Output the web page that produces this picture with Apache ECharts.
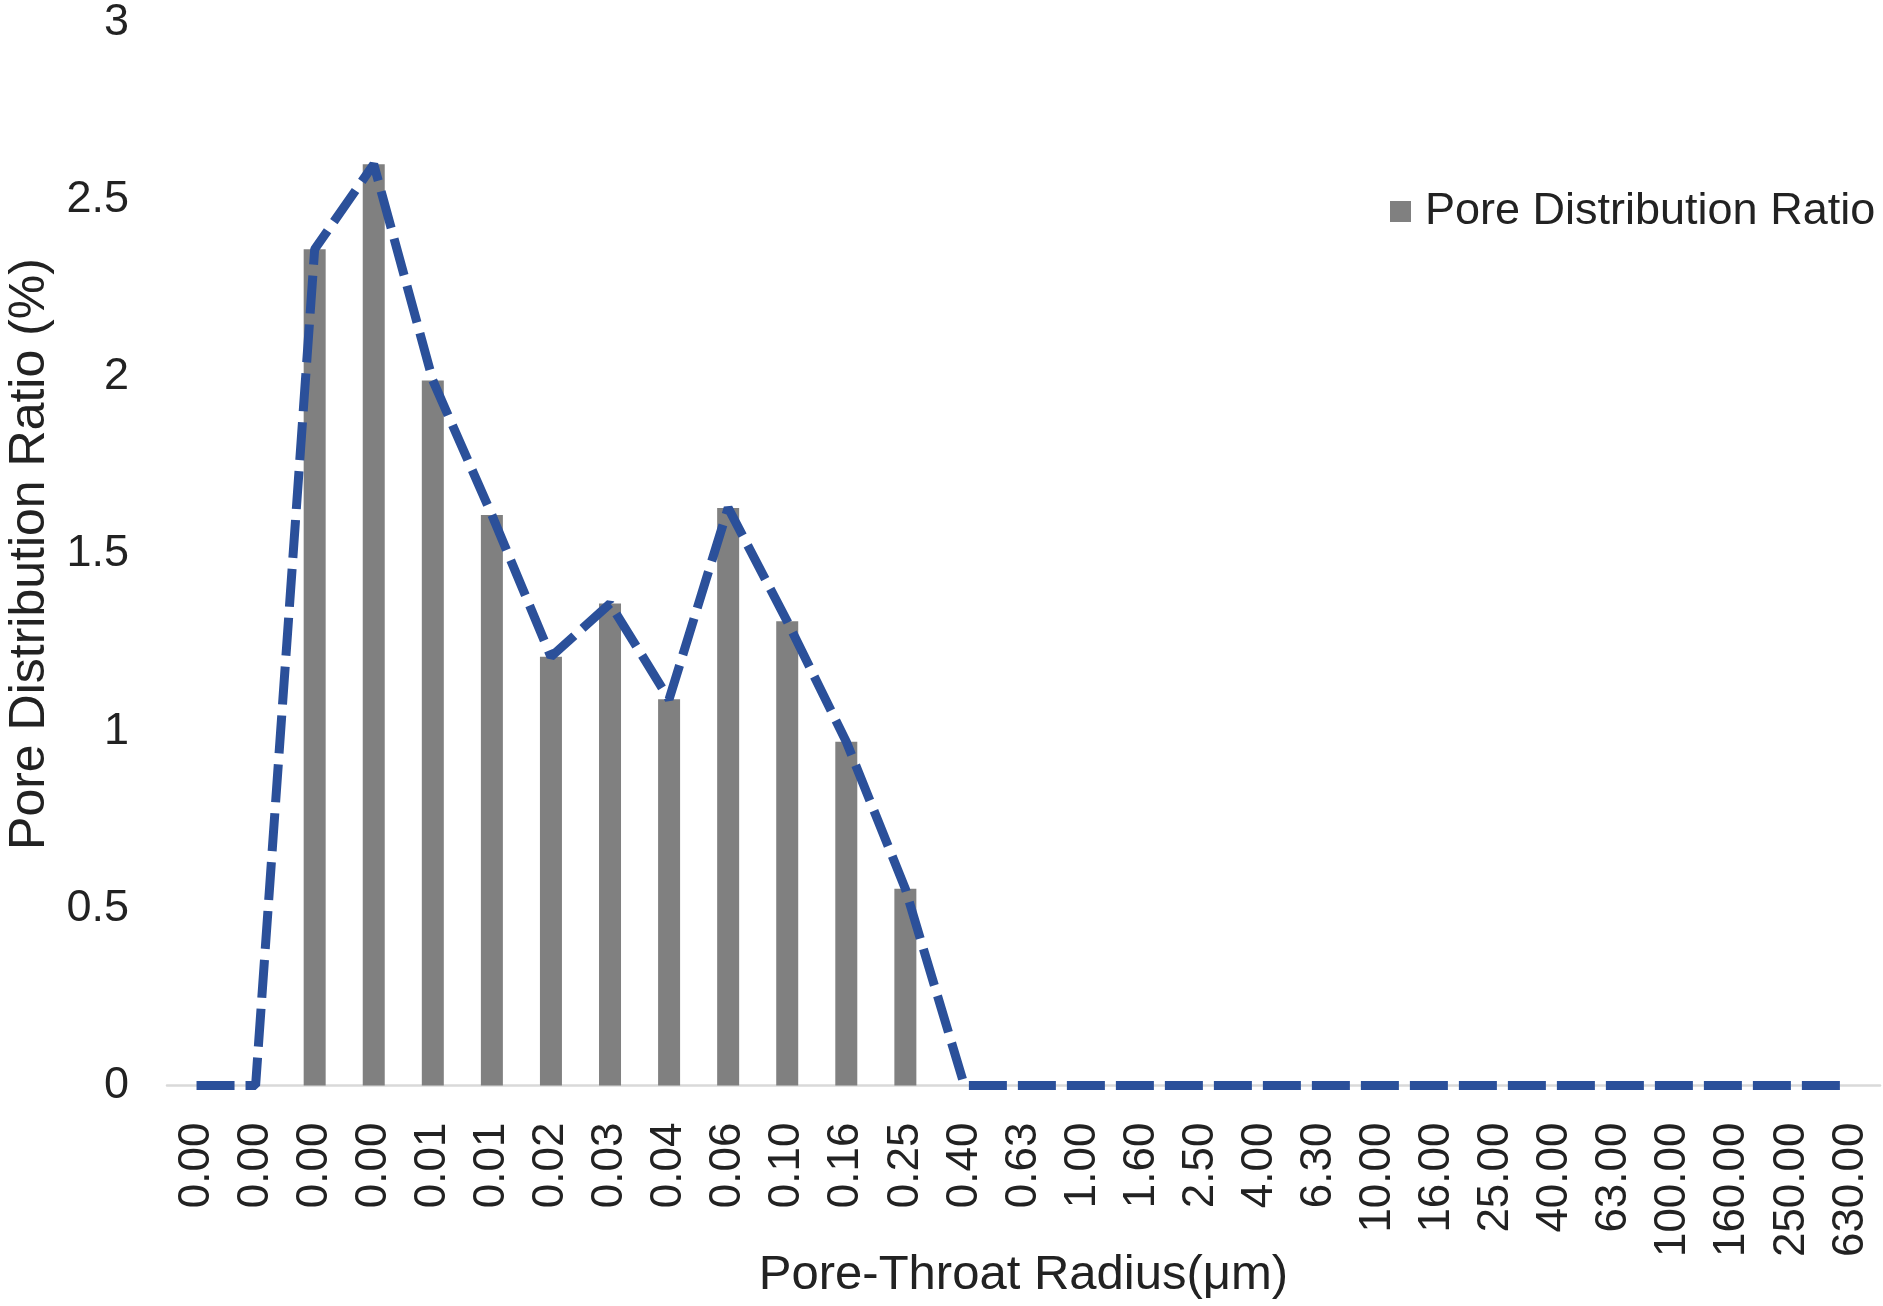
<!DOCTYPE html>
<html>
<head>
<meta charset="utf-8">
<script src="https://cdn.jsdelivr.net/npm/echarts@6/dist/echarts.min.js"></script>
<style>
  html, body { margin: 0; padding: 0; background: #fff; }
  #chart { width: 1883px; height: 1306px; }
</style>
</head>
<body>
<div id="chart"></div>
<script>
// pore-throat radius categories (µm)
const radius = ['0.00', '0.00', '0.00', '0.00', '0.01', '0.01', '0.02', '0.03', '0.04', '0.06',
  '0.10', '0.16', '0.25', '0.40', '0.63', '1.00', '1.60', '2.50', '4.00', '6.30',
  '10.00', '16.00', '25.00', '40.00', '63.00', '100.00', '160.00', '250.00', '630.00'];
// pore distribution ratio (%)
const ratio = [0, 0, 2.36, 2.60, 1.99, 1.61, 1.21, 1.36, 1.09, 1.63,
  1.31, 0.97, 0.555, 0, 0, 0, 0, 0, 0, 0,
  0, 0, 0, 0, 0, 0, 0, 0, 0];
const yTicks = { min: 0, max: 3, step: 0.5 };

const font = 'Arial, "Liberation Sans", sans-serif';

const chart = echarts.init(document.getElementById('chart'));
chart.setOption({
  backgroundColor: '#ffffff',
  animation: false,
  textStyle: { fontFamily: font },
  grid: { left: 167, right: 3, top: 22.5, bottom: 220.5, outerBoundsMode: 'none' },
  legend: {
    data: ['Pore Distribution Ratio'],
    left: 1385,
    top: 184,
    icon: 'rect',
    itemWidth: 21,
    itemHeight: 21,
    textStyle: { fontSize: 45, color: '#222', fontFamily: font, padding: [0, 0, 0, 9] }
  },
  xAxis: {
    type: 'category',
    data: radius,
    boundaryGap: true,
    axisLine: { lineStyle: { color: '#d9d9d9', width: 2.5 } },
    axisTick: { show: false },
    axisLabel: { interval: 0, rotate: 90, margin: 37, fontSize: 44, color: '#222', fontFamily: font },
    name: 'Pore-Throat Radius(μm)',
    nameLocation: 'middle',
    nameGap: 165,
    nameMoveOverlap: false,
    nameTextStyle: { fontSize: 49, color: '#222', fontFamily: font }
  },
  yAxis: {
    type: 'value',
    min: yTicks.min,
    max: yTicks.max,
    interval: yTicks.step,
    axisLine: { show: false },
    axisTick: { show: false },
    splitLine: { show: false },
    axisLabel: { margin: 38, fontSize: 45, color: '#222', fontFamily: font },
    name: 'Pore Distribution Ratio (%)',
    nameLocation: 'middle',
    nameGap: 112,
    nameMoveOverlap: false,
    nameTextStyle: { fontSize: 50, color: '#222', fontFamily: font }
  },
  series: [
    {
      name: 'Pore Distribution Ratio',
      type: 'bar',
      data: ratio,
      barWidth: 22,
      itemStyle: { color: '#808080' },
      z: 2
    },
    {
      name: 'trend',
      type: 'line',
      data: ratio,
      symbol: 'none',
      lineStyle: { color: '#2B509A', width: 9, type: [38, 11], cap: 'butt' },
      z: 3
    }
  ]
});
</script>
</body>
</html>
